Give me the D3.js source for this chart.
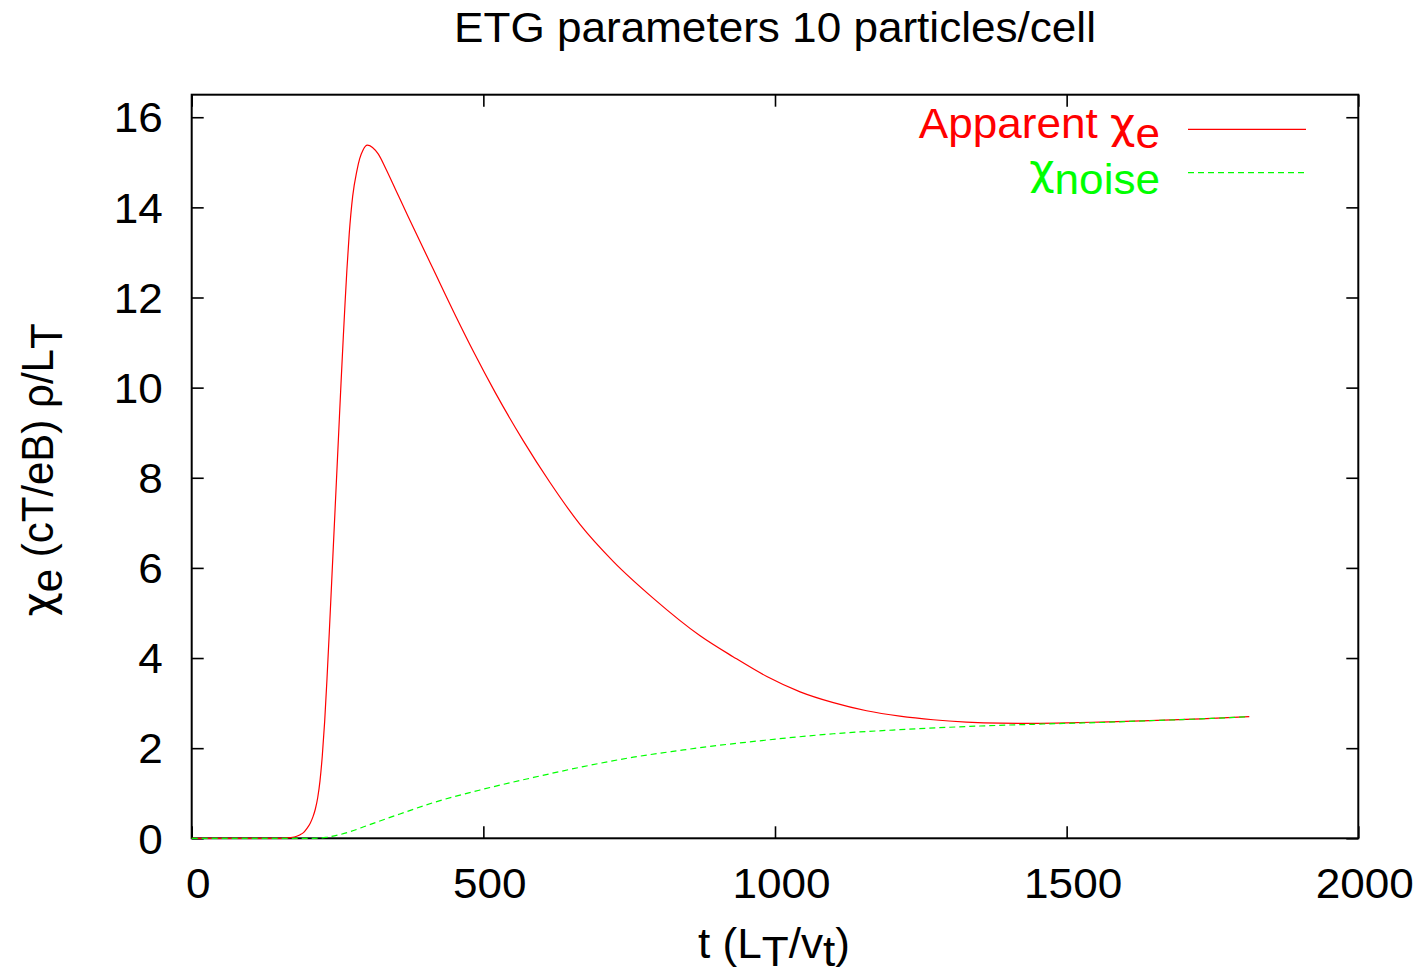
<!DOCTYPE html>
<html>
<head>
<meta charset="utf-8">
<script src="https://cdn.jsdelivr.net/npm/d3@7"></script>
<style>
  html, body { margin: 0; padding: 0; background: #fff; }
  svg { display: block; font-family: "Liberation Sans", Arial, Helvetica, sans-serif; }
  .chi { font-family: "DejaVu Sans", "Liberation Sans", sans-serif; }
</style>
</head>
<body>
<svg id="chart" width="1421" height="976"></svg>
<script>
// ---- Data ----
const apparentT = [0, 50, 100, 150, 160, 170, 180, 186, 192, 197, 203, 208, 212, 216, 220, 224, 228, 232, 236, 240, 244, 248, 252, 256, 260, 263, 266, 270, 276, 283, 288, 294, 301, 310, 320, 333, 350, 371, 414, 454, 483, 520, 568, 614, 666, 723, 791, 871, 928, 986, 1043, 1100, 1157, 1214, 1271, 1328, 1386, 1443, 1500, 1557, 1642, 1730, 1813];
const apparentChi = [0, 0, 0, 0, 0.004, 0.015, 0.045, 0.08, 0.13, 0.21, 0.33, 0.48, 0.65, 0.9, 1.28, 1.85, 2.6, 3.55, 4.6, 5.7, 6.8, 7.9, 9.0, 10.1, 11.15, 11.9, 12.6, 13.4, 14.25, 14.8, 15.08, 15.28, 15.38, 15.33, 15.18, 14.85, 14.38, 13.80, 12.63, 11.55, 10.80, 9.90, 8.83, 7.90, 6.96, 6.14, 5.33, 4.50, 4.03, 3.59, 3.25, 3.01, 2.83, 2.71, 2.63, 2.58, 2.555, 2.55, 2.56, 2.58, 2.61, 2.65, 2.70];

const noiseT = [0, 100, 210, 230, 250, 270, 300, 357, 414, 500, 586, 671, 757, 843, 871, 957, 986, 1100, 1214, 1328, 1443, 1557, 1642, 1730, 1813];
const noiseChi = [0, 0, 0, 0.02, 0.07, 0.14, 0.28, 0.54, 0.79, 1.09, 1.35, 1.59, 1.80, 1.96, 2.01, 2.14, 2.18, 2.32, 2.41, 2.48, 2.53, 2.57, 2.61, 2.65, 2.70];

const xTicks = [0, 500, 1000, 1500, 2000];
const yTicks = [0, 2, 4, 6, 8, 10, 12, 14, 16];
const xDomain = [0, 2000];
const yDomain = [0, 16.5];

// ---- Layout ----
const svg = d3.select("#chart");
const padL = 191.7, padR = 1358.3, padT = 94.7, padB = 838.3;
const FS = 42;
const SX = 1.05; // horizontal stretch of text seen in the reference
const RED = "#ff0000", GREEN = "#00ff00";

const x = d3.scaleLinear().domain(xDomain).range([padL, padR]);
const y = d3.scaleLinear().domain(yDomain).range([padB, padT]);

// Title
svg.append("text")
  .attr("transform", `translate(775,42) scale(${SX},1)`)
  .attr("text-anchor", "middle")
  .attr("font-size", FS)
  .text("ETG parameters 10 particles/cell");

// Axes (ticks inward, mirrored)
const tickLen = 12;
const gx = svg.append("g").attr("transform", `translate(0,${padB})`)
  .call(d3.axisBottom(x).tickValues(xTicks).tickSizeInner(-tickLen).tickSizeOuter(0).tickPadding(30).tickFormat(d3.format("d")));
const gy = svg.append("g").attr("transform", `translate(${padL},0)`)
  .call(d3.axisLeft(y).tickValues(yTicks).tickSizeInner(-tickLen).tickSizeOuter(0).tickPadding(27.6).tickFormat(d3.format("d")));
const gt = svg.append("g").attr("transform", `translate(0,${padT})`)
  .call(d3.axisTop(x).tickValues(xTicks).tickSizeInner(-tickLen).tickSizeOuter(0).tickFormat(""));
const gr = svg.append("g").attr("transform", `translate(${padR},0)`)
  .call(d3.axisRight(y).tickValues(yTicks).tickSizeInner(-tickLen).tickSizeOuter(0).tickFormat(""));

[gx, gy, gt, gr].forEach(g => {
  g.select(".domain").remove();
  g.selectAll(".tick line").attr("stroke", "#000").attr("stroke-width", 1.6);
  g.selectAll(".tick text").attr("font-size", FS).attr("fill", "#000")
    .attr("font-family", "Liberation Sans, Arial, sans-serif")
    .attr("transform", `scale(${SX},1)`);
});
gx.selectAll(".tick text").attr("dx", 5.7).attr("dy", "0.71em");
gy.selectAll(".tick text").attr("dy", "0.35em");

// Frame
svg.append("rect")
  .attr("x", padL).attr("y", padT)
  .attr("width", padR - padL).attr("height", padB - padT)
  .attr("fill", "none").attr("stroke", "#000").attr("stroke-width", 2);

// Lines
const apparent = apparentT.map((t, i) => ({ t, v: apparentChi[i] }));
const noise = noiseT.map((t, i) => ({ t, v: noiseChi[i] }));
const line = d3.line().x(d => x(d.t)).y(d => y(d.v)).curve(d3.curveMonotoneX);

svg.append("path").datum(apparent)
  .attr("d", line).attr("fill", "none").attr("stroke", RED).attr("stroke-width", 1.2);
svg.append("path").datum(noise)
  .attr("d", line).attr("fill", "none").attr("stroke", GREEN).attr("stroke-width", 1.2)
  .attr("stroke-dasharray", "6,4");

// Legend
const leg1 = svg.append("text").attr("transform", `translate(1160,138) scale(${SX},1)`)
  .attr("text-anchor", "end").attr("font-size", FS).attr("fill", RED);
leg1.append("tspan").text("Apparent ");
leg1.append("tspan").attr("class", "chi").text("χ");
leg1.append("tspan").attr("dy", 10).text("e");
svg.append("line").attr("x1", 1188).attr("x2", 1306).attr("y1", 129.3).attr("y2", 129.3)
  .attr("stroke", RED).attr("stroke-width", 1.2);

const leg2 = svg.append("text").attr("transform", `translate(1160,184) scale(${SX},1)`)
  .attr("text-anchor", "end").attr("font-size", FS).attr("fill", GREEN);
leg2.append("tspan").attr("class", "chi").text("χ");
leg2.append("tspan").attr("dy", 10).text("noise");
svg.append("line").attr("x1", 1188).attr("x2", 1304).attr("y1", 172.7).attr("y2", 172.7)
  .attr("stroke", GREEN).attr("stroke-width", 1.2).attr("stroke-dasharray", "6,4");

// X label
const xl = svg.append("text").attr("transform", `translate(774,958) scale(${SX},1)`)
  .attr("text-anchor", "middle").attr("font-size", FS);
xl.append("tspan").text("t (L");
xl.append("tspan").attr("dy", 8).text("T");
xl.append("tspan").attr("dy", -8).text("/v");
xl.append("tspan").attr("dy", 8).text("t");
xl.append("tspan").attr("dy", -8).text(")");

// Y label (rotated)
const yl = svg.append("text").attr("transform", `translate(53,470) scale(${SX},1) rotate(-90)`)
  .attr("text-anchor", "middle").attr("font-size", FS);
yl.append("tspan").attr("class", "chi").text("χ");
yl.append("tspan").attr("dy", 9).text("e");
yl.append("tspan").attr("dy", -9).text(" (cT/eB) ρ/L");
yl.append("tspan").attr("dy", 9).text("T");
</script>
</body>
</html>
